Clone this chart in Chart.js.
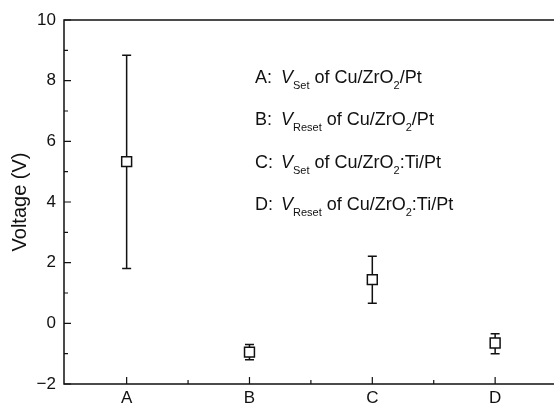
<!DOCTYPE html>
<html>
<head>
<meta charset="utf-8">
<script src="https://cdn.jsdelivr.net/npm/chart.js@4.4.1/dist/chart.umd.min.js"></script>
<style>
  html, body { margin: 0; padding: 0; background: #fff; }
  #wrap { width: 554px; height: 408px; }
</style>
</head>
<body>
<div id="wrap"><canvas id="voltChart"></canvas></div>
<script>
// data
const categories = ["A", "B", "C", "D"];
const means = [5.33, -0.95, 1.44, -0.65];
const lows = [1.81, -1.2, 0.66, -1.0];
const highs = [8.84, -0.7, 2.21, -0.34];

const yTicks = [-2, 0, 2, 4, 6, 8, 10];
const yMinorTicks = [-1, 1, 3, 5, 7, 9];
const xMinorTicks = [1.5, 2.5, 3.5];

// legend rows: [prefix, subscript, middle, subscript, suffix]
const legendRows = [
    ["A:", "Set", " of Cu/ZrO", "2", "/Pt"],
    ["B:", "Reset", " of Cu/ZrO", "2", "/Pt"],
    ["C:", "Set", " of Cu/ZrO", "2", ":Ti/Pt"],
    ["D:", "Reset", " of Cu/ZrO", "2", ":Ti/Pt"]
];

const FONT = "'Liberation Sans', Arial, sans-serif";

const points = categories.map((c, i) => ({ x: i + 1, y: means[i] }));

// error bars under the markers
const errorBars = {
    id: "errorBars",
    beforeDatasetsDraw(chart){
        const ctx = chart.ctx;
        const xs = chart.scales.x;
        const ys = chart.scales.y;
        ctx.save();
        ctx.strokeStyle = "#111";
        ctx.lineWidth = 1.5;
        categories.forEach((c, i) => {
            const px = xs.getPixelForValue(i + 1);
            const top = ys.getPixelForValue(highs[i]);
            const bot = ys.getPixelForValue(lows[i]);
            ctx.beginPath();
            ctx.moveTo(px, top);
            ctx.lineTo(px, bot);
            ctx.moveTo(px - 4.5, top);
            ctx.lineTo(px + 4.5, top);
            ctx.moveTo(px - 4.5, bot);
            ctx.lineTo(px + 4.5, bot);
            ctx.stroke();
        });
        ctx.restore();
    }
};

// frame and inward ticks
const frame = {
    id: "frame",
    afterDraw(chart){
        const ctx = chart.ctx;
        const a = chart.chartArea;
        const xs = chart.scales.x;
        const ys = chart.scales.y;
        ctx.save();
        ctx.strokeStyle = "#111";
        ctx.lineWidth = 1.5;
        ctx.beginPath();
        ctx.moveTo(chart.width, a.top);
        ctx.lineTo(a.left, a.top);
        ctx.lineTo(a.left, a.bottom);
        ctx.lineTo(chart.width, a.bottom);
        ctx.stroke();

        ctx.lineWidth = 1.2;
        ctx.beginPath();
        yTicks.forEach(v => {
            const py = ys.getPixelForValue(v);
            ctx.moveTo(a.left, py);
            ctx.lineTo(a.left + 7, py);
        });
        yMinorTicks.forEach(v => {
            const py = ys.getPixelForValue(v);
            ctx.moveTo(a.left, py);
            ctx.lineTo(a.left + 4, py);
        });
        categories.forEach((c, i) => {
            const px = xs.getPixelForValue(i + 1);
            ctx.moveTo(px, a.bottom);
            ctx.lineTo(px, a.bottom - 7);
        });
        xMinorTicks.forEach(v => {
            const px = xs.getPixelForValue(v);
            ctx.moveTo(px, a.bottom);
            ctx.lineTo(px, a.bottom - 4);
        });
        ctx.stroke();
        ctx.restore();
    }
};

// text block with italic V and subscripts
const legendText = {
    id: "legendText",
    afterDraw(chart){
        const ctx = chart.ctx;
        const main = "18px " + FONT;
        const ital = "italic 18px " + FONT;
        const sub = "11px " + FONT;
        ctx.save();
        ctx.fillStyle = "#111";
        ctx.textBaseline = "alphabetic";
        ctx.textAlign = "left";
        legendRows.forEach((row, i) => {
            const y = 83 + i * 42.4;
            let x = 255;
            ctx.font = main;
            ctx.fillText(row[0], x, y);
            x += 26;
            ctx.font = ital;
            ctx.fillText("V", x, y);
            x += ctx.measureText("V").width;
            ctx.font = sub;
            ctx.fillText(row[1], x, y + 6);
            x += ctx.measureText(row[1]).width;
            ctx.font = main;
            ctx.fillText(row[2], x, y);
            x += ctx.measureText(row[2]).width;
            ctx.font = sub;
            ctx.fillText(row[3], x, y + 6);
            x += ctx.measureText(row[3]).width;
            ctx.font = main;
            ctx.fillText(row[4], x, y);
        });
        ctx.restore();
    }
};

new Chart(document.getElementById("voltChart"), {
    type: "scatter",
    data: {
        datasets: [{
            data: points,
            pointStyle: "rect",
            pointRadius: 7,
            pointHoverRadius: 7,
            borderWidth: 1.5,
            borderColor: "#111",
            backgroundColor: "#fff"
        }]
    },
    options: {
        responsive: true,
        maintainAspectRatio: false,
        animation: false,
        events: [],
        layout: { padding: { top: 20, right: 0, bottom: 0, left: 0 } },
        plugins: {
            legend: { display: false },
            tooltip: { enabled: false }
        },
        scales: {
            x: {
                type: "linear",
                // axis runs a little past the picture's right edge
                min: 0.49,
                max: 4.41,
                afterBuildTicks(scale){
                    scale.ticks = categories.map((c, i) => ({ value: i + 1 }));
                },
                afterFit(scale){
                    scale.height = 24;
                },
                grid: { display: false, drawTicks: false },
                border: { display: false },
                ticks: {
                    padding: 4,
                    color: "#111",
                    font: { family: FONT, size: 17 },
                    maxRotation: 0,
                    callback: v => categories[v - 1] || ""
                }
            },
            y: {
                min: -2,
                max: 10,
                afterBuildTicks(scale){
                    scale.ticks = yTicks.map(v => ({ value: v }));
                },
                afterFit(scale){
                    scale.width = 64;
                },
                grid: { display: false, drawTicks: false },
                border: { display: false },
                title: {
                    display: true,
                    text: "Voltage (V)",
                    color: "#111",
                    font: { family: FONT, size: 20 },
                    padding: { top: 8, bottom: 0 }
                },
                ticks: {
                    padding: 8,
                    color: "#111",
                    font: { family: FONT, size: 17 },
                    callback: v => String(v).replace("-", "\u2212")
                }
            }
        }
    },
    plugins: [errorBars, frame, legendText]
});
</script>
</body>
</html>
